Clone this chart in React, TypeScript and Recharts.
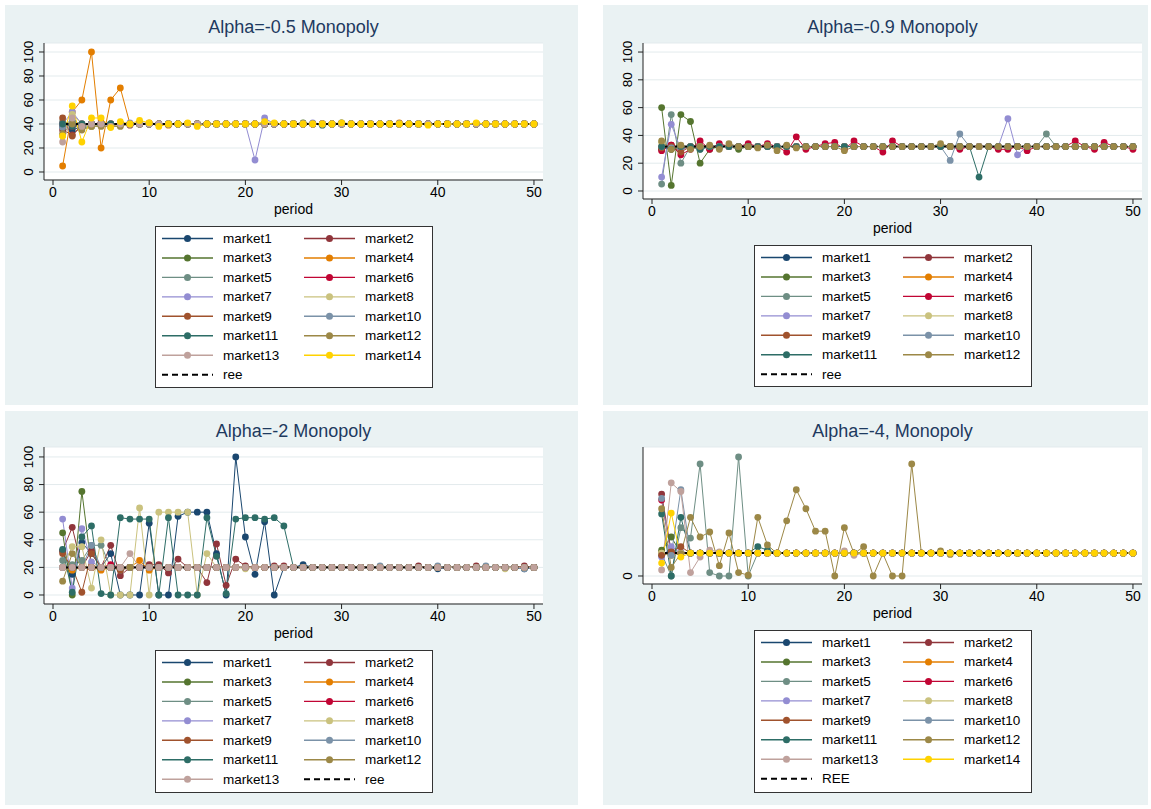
import React from 'react';
import { LineChart, Line, XAxis, YAxis, CartesianGrid } from 'recharts';

// Stata s2color palette, market1..market14
const colors = [
  '#1a476f', '#90353b', '#55752f', '#e37e00', '#6e8e84', '#c10534', '#938dd2',
  '#cac27e', '#a0522d', '#7b92a8', '#2d6d66', '#9c8847', '#bfa19c', '#ffd200',
];

const periods = Array.from({ length: 50 }, (_, i) => i + 1);
const xTicks = [0, 10, 20, 30, 40, 50];

// a market's path: the values read for the first periods, then it sits on its level,
// with a few later deviations
const track = (start: number[], level: number, later: Record<number, number> = {}) =>
  periods.map((p) => (later[p] !== undefined ? later[p] : p <= start.length ? start[p - 1] : level));

// Alpha = -0.5
const reeA = 40;
const startA = [
  [38, 35, 38, 40, 40, 39, 40, 40, 41, 40],
  [35, 31, 38, 40, 40, 40, 40, 39],
  [40, 42, 37, 38, 40, 40],
  [5, 50, 60, 100, 20, 60, 70, 40, 40, 41, 40, 39],
  [42, 40, 38, 40, 39, 40],
  [40, 38, 40, 40, 41],
  [40, 50, 40, 40, 40, 38, 40, 41, 40],
  [30, 48, 40, 38, 40, 40, 39],
  [45, 30, 40, 40, 40],
  [37, 42, 40, 39, 40],
  [40, 38, 40, 40, 40],
  [32, 40, 35, 38, 38, 38, 38, 40],
  [25, 45, 38, 40, 40, 38, 40],
  [30, 55, 25, 45, 45, 37, 42, 40, 43, 41, 38, 40, 40, 41, 38, 40, 40, 40, 40, 40, 40, 42],
];
const laterA = [
  { 30: 41 }, {}, { 26: 41 }, { 36: 41 }, {}, {}, { 21: 10, 22: 45, 27: 41 },
  {}, {}, {}, { 28: 39 }, {}, {}, { 23: 41, 30: 41, 39: 39, 44: 41 },
];

// Alpha = -0.9
const reeB = 32;
const startB = [
  [30, 32, 31, 32, 32, 31],
  [31, 33, 30, 32],
  [60, 4, 55, 50, 20, 30, 32, 32, 30, 32],
  [32, 30, 32],
  [5, 55, 20, 32, 30, 32],
  [29, 33, 26, 30, 36, 30, 34, 32, 32, 34, 32, 34, 32, 28, 39, 30, 32, 34, 35, 30, 36, 32, 32, 28, 36,
    32, 32, 32, 32, 32, 32, 30, 32, 32, 32, 30, 30, 32, 29, 32, 32, 32, 32, 36, 32, 30, 35, 32, 32, 30],
  [10, 48, 30, 32, 31],
  [35, 30, 32],
  [31, 32, 28, 32],
  [32, 31, 32],
  [32, 30, 32, 32, 30, 32],
  [36, 30, 33, 30, 32, 33, 30, 34, 32, 32, 31, 33, 29, 33, 31, 32, 32, 32, 32, 29, 32, 32, 32, 32, 32,
    32, 32, 32, 32, 34],
];
const laterB = [
  {}, {}, {}, {}, { 41: 41 }, {}, { 37: 52, 38: 26 }, {}, {}, { 31: 22, 32: 41 }, { 34: 10 }, {},
];

// Alpha = -2
const reeC = 20;
const startC = [
  [32, 15, 38, 30, 20, 30, 0, 0, 0, 52, 0, 0, 57, 60, 60, 60, 30, 0, 100, 42, 15, 53, 0, 20, 20, 22],
  [32, 49, 20, 32, 20, 36, 14, 20, 20, 22, 22, 16, 26, 20, 20, 9, 37, 7, 26, 21, 20, 20, 21, 21],
  [45, 0, 75, 20, 20, 20],
  [20, 18, 20, 20, 18, 20, 20, 20, 25, 18, 20],
  [25, 22, 25, 36, 36, 20, 18, 20, 20],
  [20, 20, 20, 20, 20, 22, 20, 20],
  [55, 5, 48, 24, 20, 20, 20],
  [20, 35, 35, 5, 40, 0, 0, 0, 63, 0, 60, 60, 60, 60, 0, 30, 20, 20, 20, 19, 20],
  [30, 20, 2, 30, 20, 20, 18, 20],
  [20, 20, 20, 36, 20, 20],
  [33, 2, 42, 50, 1, 0, 56, 55, 55, 55, 0, 56, 0, 0, 0, 56, 28, 1, 55, 56, 56, 55, 56, 50, 20, 20],
  [10, 30, 20, 20, 20],
  [20, 20, 20, 20, 20, 20, 20, 30, 20],
];
const laterC = [
  { 40: 19, 49: 19 }, { 38: 21, 44: 21, 49: 21 }, {}, {}, {}, {}, {}, { 47: 19 }, {},
  { 34: 21, 40: 21, 45: 21, 49: 19 }, {}, {}, {},
];

// Alpha = -4
const reeD = 13.3;
const startD = [
  [12, 13, 13.3],
  [47.5, 14, 13.3],
  [15, 22.6, 13.3],
  [13.3, 12, 13.3],
  [13, 0, 28, 22, 65, 2, 0, 0, 69, 0, 13.3],
  [44, 13, 13.3],
  [11, 17, 14, 13.3],
  [13.3, 12, 13.3],
  [12, 14, 17, 13.3],
  [45, 12, 50, 13.3],
  [36, 0, 34, 13.3, 13.3, 13.3, 13.3, 13.3, 13.3, 13.3, 17, 15],
  [39, 5, 13, 34, 22.6, 25.5, 6, 25, 2, 0.5, 34, 18, 13, 32, 50, 39, 26, 26, 0, 28, 13, 17, 0, 13, 0, 0, 65, 13.3],
  [3.5, 54, 49, 2, 11, 15, 14, 13.3],
  [7.5, 36.5, 11, 13.3],
];
const laterD = [
  {}, {}, {}, {}, {}, {}, {}, {}, {}, {}, {}, { 30: 14.5, 31: 12.5 }, { 20: 14.5, 21: 12 }, {},
];

const buildData = (start: number[][], later: Record<number, number>[], ree: number) => {
  const series = start.map((s, i) => track(s, ree, later[i]));
  return periods.map((p, k) => {
    const row: Record<string, number> = { period: p, ree };
    series.forEach((s, i) => { row[`m${i + 1}`] = s[k]; });
    return row;
  });
};

const panels = [
  {
    title: 'Alpha=-0.5 Monopoly', bg: { x: 5, y: 5, w: 573, h: 400 },
    plot: { left: 44, right: 543, top: 43, bottom: 180 },
    yDomain: [-6.67, 107.5], yTicks: [0, 20, 40, 60, 80, 100],
    data: buildData(startA, laterA, reeA), n: 14, reeLabel: 'ree',
    legend: { left: 155, top: 226, height: 162 },
  },
  {
    title: 'Alpha=-0.9 Monopoly', bg: { x: 603, y: 5, w: 545, h: 400 },
    plot: { left: 643, right: 1142, top: 43, bottom: 199 },
    yDomain: [-5.76, 106.5], yTicks: [0, 20, 40, 60, 80, 100],
    data: buildData(startB, laterB, reeB), n: 12, reeLabel: 'ree',
    legend: { left: 754, top: 245, height: 142 },
  },
  {
    title: 'Alpha=-2 Monopoly', bg: { x: 5, y: 411, w: 573, h: 394 },
    plot: { left: 44, right: 543, top: 447, bottom: 604 },
    yDomain: [-6.52, 107.2], yTicks: [0, 20, 40, 60, 80, 100],
    data: buildData(startC, laterC, reeC), n: 13, reeLabel: 'ree',
    legend: { left: 155, top: 650, height: 143 },
  },
  {
    title: 'Alpha=-4, Monopoly', bg: { x: 603, y: 411, w: 545, h: 394 },
    plot: { left: 643, right: 1142, top: 447, bottom: 584 },
    yDomain: [-4.64, 74.8], yTicks: [0],
    data: buildData(startD, laterD, reeD), n: 14, reeLabel: 'REE',
    legend: { left: 754, top: 630, height: 163 },
  },
];

const YTick = ({ x, y, payload }: any) => {
  const bx = x - 4;
  return (
    <text x={bx} y={y} transform={`rotate(-90 ${bx} ${y})`} textAnchor="middle" fontSize={13.5} fill="#000">
      {payload.value}
    </text>
  );
};

function LegendBox({ left, top, height, n, reeLabel }: any) {
  const items = colors.slice(0, n).map((c, i) => ({ label: `market${i + 1}`, color: c, dashed: false }));
  items.push({ label: reeLabel, color: '#000', dashed: true });
  return (
    <svg style={{ position: 'absolute', left, top }} width={278} height={height}>
      <rect x={0.5} y={0.5} width={277} height={height - 1} fill="#fff" stroke="#333" />
      {items.map((it, i) => {
        const x0 = i % 2 ? 149 : 7;
        const cy = 12.5 + Math.floor(i / 2) * 19.45;
        return (
          <g key={it.label}>
            <line x1={x0} x2={x0 + 51} y1={cy} y2={cy} stroke={it.color}
              strokeWidth={it.dashed ? 2 : 1.4} strokeDasharray={it.dashed ? '6 4' : undefined} />
            {!it.dashed && <circle cx={x0 + 25.5} cy={cy} r={3.5} fill={it.color} />}
            <text x={x0 + 61} y={cy} dominantBaseline="central" fontSize={13.5} fill="#000">{it.label}</text>
          </g>
        );
      })}
    </svg>
  );
}

function Panel({ cfg }: any) {
  const { plot, bg } = cfg;
  const yw = 40;
  const xh = 30;
  const pad = 16; // room above the plot for the top tick label
  const chartLeft = plot.left - yw;
  const cx = (plot.left + plot.right) / 2;
  return (
    <>
      <div style={{ position: 'absolute', left: bg.x, top: bg.y, width: bg.w, height: bg.h, background: '#eaf2f3' }} />
      <div style={{ position: 'absolute', left: cx - 200, width: 400, top: plot.top - 26, lineHeight: '20px',
        fontSize: 18, color: '#1e3a5f', textAlign: 'center' }}>{cfg.title}</div>
      <div style={{ position: 'absolute', left: cx - 60, width: 120, top: plot.bottom + 20, lineHeight: '18px',
        fontSize: 14, color: '#000', textAlign: 'center' }}>period</div>
      <div style={{ position: 'absolute', left: chartLeft, top: plot.top - pad }}>
        <LineChart width={plot.right - chartLeft} height={plot.bottom - plot.top + xh + pad} data={cfg.data}
          margin={{ top: pad, right: 0, bottom: 0, left: 0 }}>
          <CartesianGrid vertical={false} stroke="#e3ebed" fill="#fff" />
          <XAxis dataKey="period" type="number" domain={[-0.936, 50.94]} allowDataOverflow ticks={xTicks}
            interval={0} height={xh} tickSize={5} tickMargin={2} stroke="#222"
            tick={{ fontSize: 14, fill: '#000' }} />
          <YAxis type="number" domain={cfg.yDomain} allowDataOverflow ticks={cfg.yTicks} interval={0}
            width={yw} tickSize={5} tickMargin={2} stroke="#222" tick={<YTick />} />
          {colors.slice(0, cfg.n).map((c, i) => (
            <Line key={i} type="linear" dataKey={`m${i + 1}`} stroke={c} strokeWidth={1}
              dot={{ r: 3.4, fill: c, stroke: c, strokeWidth: 0 }} activeDot={false} isAnimationActive={false} />
          ))}
          <Line type="linear" dataKey="ree" stroke="#000" strokeWidth={2} strokeDasharray="6 4"
            dot={false} activeDot={false} isAnimationActive={false} />
        </LineChart>
      </div>
      <LegendBox {...cfg.legend} n={cfg.n} reeLabel={cfg.reeLabel} />
    </>
  );
}

export default function App() {
  return (
    <div style={{ position: 'absolute', left: 0, top: 0, width: 1151, height: 809, background: '#fff',
      fontFamily: '"Liberation Sans", Arial, sans-serif' }}>
      {panels.map((p) => <Panel key={p.title} cfg={p} />)}
    </div>
  );
}
